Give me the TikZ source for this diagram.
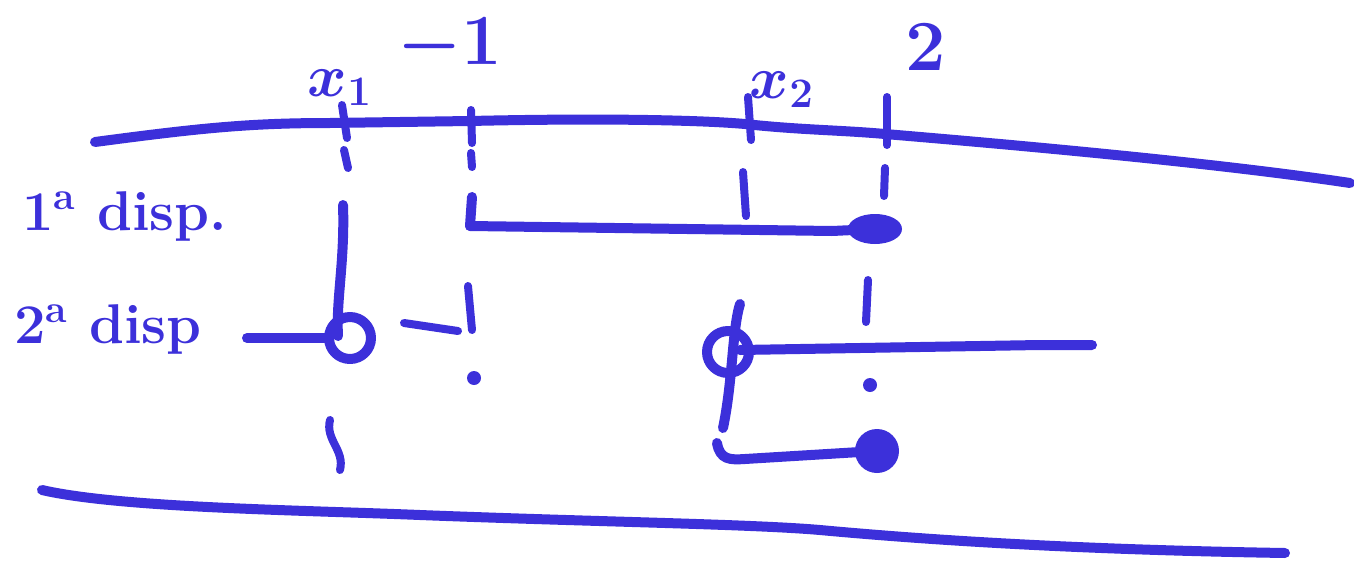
\RequirePackage{fix-cm}
\documentclass[tikz,border=0pt]{standalone}
\definecolor{pen}{RGB}{60,48,218}
\begin{document}
\begin{tikzpicture}[x=0.5pt,y=-0.5pt,
  ink/.style={draw=pen,line width=5pt,line cap=round,line join=round},
  dashink/.style={draw=pen,line width=4pt,line cap=round,line join=round},
  lbl/.style={text=pen,inner sep=0pt,font=\fontsize{30}{34}\selectfont\bfseries\boldmath},
  numlbl/.style={text=pen,inner sep=0pt,font=\fontsize{36}{40}\selectfont\bfseries\boldmath},
  biglbl/.style={text=pen,inner sep=0pt,font=\fontsize{28}{32}\selectfont\bfseries},
  dot/.style={fill=pen,draw=pen,line width=1pt}]
\useasboundingbox (0,0) rectangle (1354,562);

% ---- axes (top and bottom lines) ----
\coordinate (T0) at (95,142);
\coordinate (T1) at (330,123);
\coordinate (T2) at (470,121);
\coordinate (T3) at (745,124);
\coordinate (T4) at (885,134);
\coordinate (T5) at (1350,183);
\draw[ink] (T0) .. controls (200,128) and (250,123) .. (T1) -- (T2)
  .. controls (600,118) and (700,120) .. (T3)
  .. controls (800,130) and (840,130) .. (T4)
  .. controls (1100,152) and (1250,168) .. (T5);

\coordinate (B0) at (42,490);
\coordinate (B1) at (420,515);
\coordinate (B2) at (820,530);
\coordinate (B3) at (1285,553);
\draw[ink] (B0) .. controls (120,508) and (300,510) .. (B1)
  .. controls (600,522) and (750,524) .. (B2)
  .. controls (950,542) and (1100,550) .. (B3);

% ---- labels ----
\node[biglbl,anchor=base west] (lblA) at (22,230) {1\textsuperscript{a} disp.};
\node[biglbl,anchor=base west] (lblB) at (14,343) {2\textsuperscript{a} disp};
\node[lbl] (lx1) at (340,88) {$x_1$};
\node[numlbl,anchor=base] (lm1) at (450,64) {$-1$};
\node[lbl] (lx2) at (782,90) {$x_2$};
\node[numlbl,anchor=base] (l2) at (926,70) {$2$};

% ---- vertical line at x1 ----
\coordinate (A1) at (342,105); \coordinate (A2) at (347,138);
\coordinate (A3) at (344,150); \coordinate (A4) at (348,168);
\coordinate (A5) at (343,205); \coordinate (A6) at (338,336);
\coordinate (A7) at (330,420); \coordinate (A8) at (340,470);
\draw[dashink] (A1) -- (A2);
\draw[dashink] (A3) -- (A4);
\draw[ink] (A5) .. controls (345,260) and (336,300) .. (A6);
\draw[dashink] (A7) .. controls (325,440) and (345,450) .. (A8);
% open endpoint of 2nd disp. on the left
\coordinate (C1) at (350,338);
\coordinate (L0) at (247,338);
\coordinate (L1) at (329,338);
\draw[ink] (L0) -- (L1);
\draw[ink] (C1) circle (21);

% ---- vertical line at -1 ----
\coordinate (M1) at (471,110); \coordinate (M2) at (472,143);
\coordinate (M3) at (471,153); \coordinate (M4) at (472,167);
\coordinate (M5) at (472,197); \coordinate (M6) at (470,226);
\coordinate (M7) at (468,286); \coordinate (M8) at (472,330);
\coordinate (M9) at (474,378);
\draw[dashink] (M1) -- (M2);
\draw[dashink] (M3) -- (M4);
\draw[ink] (M5) -- (M6);
\draw[dashink] (M7) -- (M8);
\fill[pen] (M9) circle (7);
\coordinate (N1) at (404,323); \coordinate (N2) at (458,331);
\draw[dashink] (N1) -- (N2);

% 1st disp. segment [-1, 2] closed at 2
\coordinate (D1) at (832,231);
\coordinate (E1) at (875,229);
\draw[ink] (M6) -- (D1);
\draw[dot] (E1) ellipse (26 and 14);
\draw[ink] (D1) -- (E1);

% ---- vertical line at x2 ----
\coordinate (X1) at (748,97); \coordinate (X2) at (751,140);
\coordinate (X3) at (743,172); \coordinate (X4) at (746,216);
\coordinate (X5) at (740,304); \coordinate (X6) at (723,428);
\draw[dashink] (X1) -- (X2);
\draw[dashink] (X3) -- (X4);
\draw[ink] (X5) .. controls (732,330) and (733,380) .. (X6);

% 2nd disp. right: open at x2, to the right
\coordinate (C2) at (728,352);
\coordinate (R0) at (740,350);
\coordinate (R1) at (1092,345);
\draw[ink] (C2) circle (21);
\draw[ink] (R0) -- (1040,345) -- (R1);

% third segment closed at 2
\coordinate (S0) at (717,443);
\coordinate (S1) at (860,452);
\coordinate (E2) at (877,451);
\draw[ink] (S0) .. controls (720,460) and (730,460) .. (745,459) -- (S1);
\draw[dot] (E2) circle (21);

% ---- vertical line at 2 ----
\coordinate (Z1) at (887,97); \coordinate (Z2) at (887,145);
\coordinate (Z3) at (885,168); \coordinate (Z4) at (884,196);
\coordinate (Z5) at (868,280); \coordinate (Z6) at (866,322);
\coordinate (Z7) at (870,385);
\draw[dashink] (Z1) -- (Z2);
\draw[dashink] (Z3) -- (Z4);
\draw[dashink] (Z5) -- (Z6);
\fill[pen] (Z7) circle (7);
\end{tikzpicture}
\end{document}
